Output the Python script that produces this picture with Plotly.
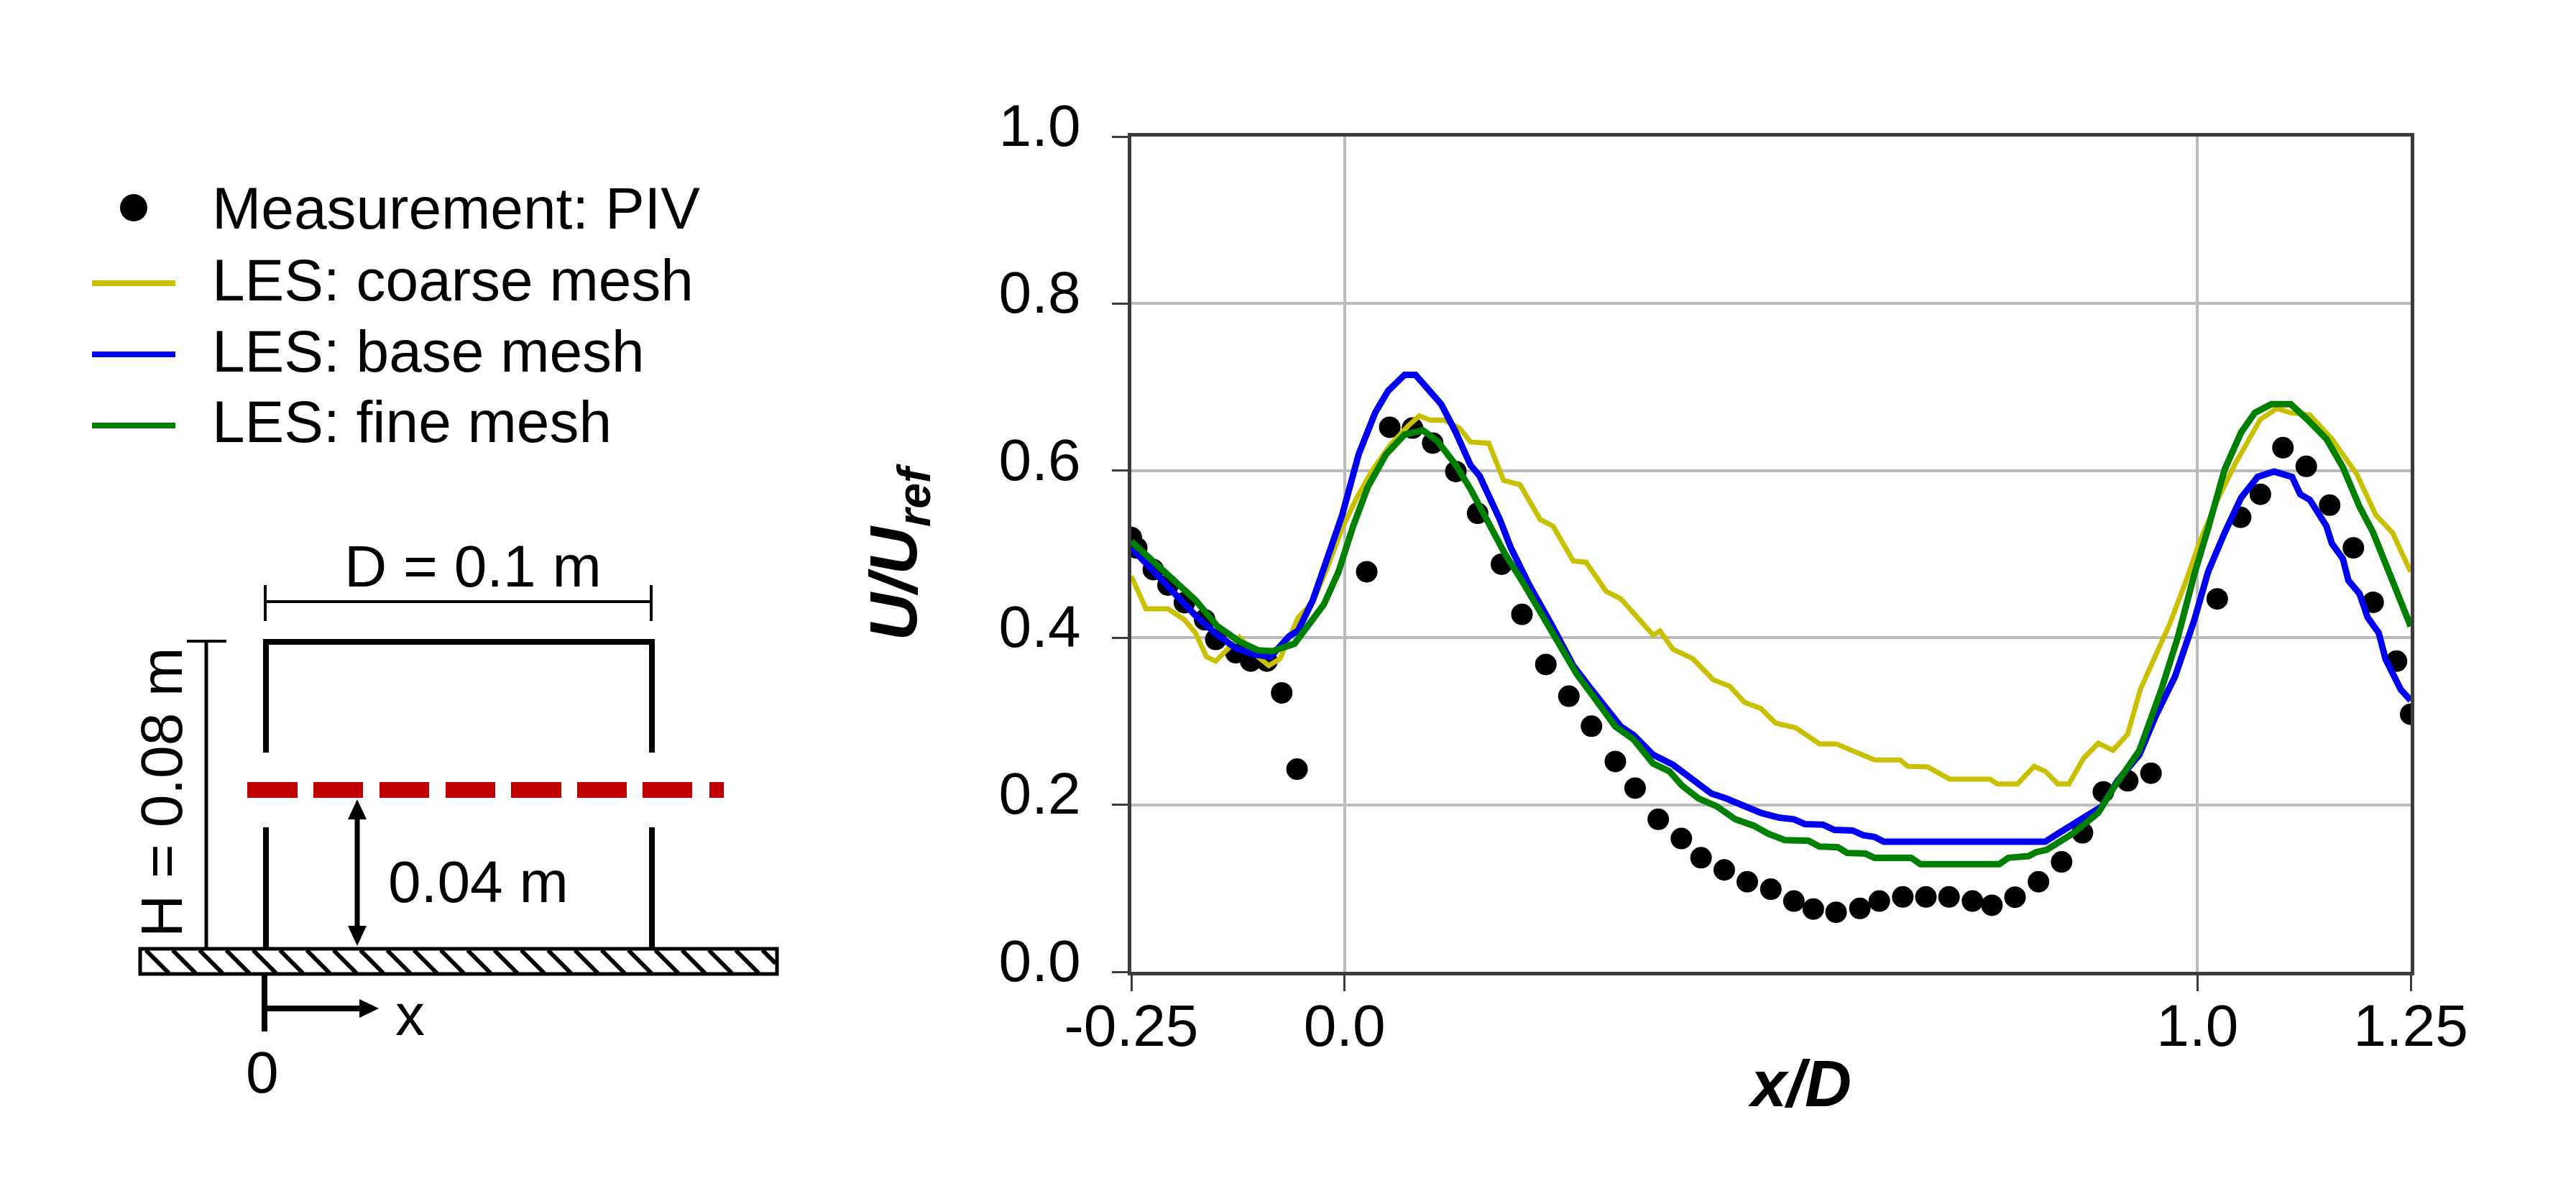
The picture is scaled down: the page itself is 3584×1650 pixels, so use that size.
import plotly.graph_objects as go

W, H = 3584, 1650
FONT = 'Liberation Sans'
PAGE_MARGIN = 8  # the browser's default body margin pushes the figure by this much

# Measurement: PIV
piv_x = [-0.25, -0.2436, -0.2242, -0.207, -0.1877, -0.164, -0.151, -0.1275, -0.11, -0.091, -0.0737, -0.0557,
         0.026, 0.053, 0.0797, 0.1034, 0.1305, 0.156, 0.184, 0.208, 0.236, 0.263, 0.2895, 0.3175, 0.3407,
         0.3678, 0.3949, 0.418, 0.4452, 0.4722, 0.4998, 0.5268, 0.5496, 0.5763, 0.6042, 0.627, 0.6545,
         0.6816, 0.7087, 0.7362, 0.759, 0.7861, 0.8136, 0.8407, 0.8652, 0.8897, 0.9182, 0.9455,
         1.0232, 1.0506, 1.0738, 1.1002, 1.1276, 1.155, 1.1828, 1.206, 1.2334, 1.25]
piv_y = [0.52, 0.5076, 0.4815, 0.463, 0.442, 0.4215, 0.398, 0.382, 0.372, 0.372, 0.334, 0.2426,
         0.479, 0.652, 0.651, 0.633, 0.599, 0.549, 0.488, 0.428, 0.368, 0.33, 0.294, 0.2518, 0.2199,
         0.1826, 0.1596, 0.1366, 0.122, 0.1078, 0.0989, 0.0847, 0.0751, 0.0713, 0.0759, 0.0847, 0.0897,
         0.0897, 0.0897, 0.0847, 0.0797, 0.0893, 0.1078, 0.1316, 0.1665, 0.2154, 0.2286, 0.2378,
         0.4465, 0.5441, 0.5717, 0.6275, 0.6051, 0.5587, 0.5076, 0.4424, 0.3719, 0.3083]

# LES: coarse mesh
coarse_x = [-0.25, -0.2328, -0.207, -0.1877, -0.1748, -0.1619, -0.1511, -0.1361, -0.1232, -0.1017, -0.0888,
            -0.0759, -0.0544, -0.0372, -0.02, -0.0028, 0.0144, 0.0316, 0.0531, 0.0746, 0.0875, 0.1004, 0.1176,
            0.1348, 0.1477, 0.1692, 0.1864, 0.2057, 0.2294, 0.2444, 0.2681, 0.2831, 0.3068, 0.324, 0.3618,
            0.3699, 0.385, 0.4086, 0.4323, 0.4516, 0.4688, 0.4882, 0.5054, 0.529, 0.557, 0.5763, 0.6214,
            0.6515, 0.6601, 0.6838, 0.7096, 0.7569, 0.7655, 0.7891, 0.8084, 0.8214, 0.8364, 0.8493, 0.8665,
            0.8837, 0.9009, 0.9181, 0.9331, 0.9516, 0.9674, 0.9867, 1.0028, 1.0222, 1.0448, 1.0738, 1.0931,
            1.1093, 1.1318, 1.1576, 1.1866, 1.2092, 1.2286, 1.25]
coarse_y = [0.4737, 0.4345, 0.4345, 0.4215, 0.4058, 0.3772, 0.3719, 0.3876, 0.4006, 0.3772, 0.3667,
            0.3745, 0.4241, 0.4424, 0.4841, 0.531, 0.5676, 0.5988, 0.6301, 0.6536, 0.6656, 0.6604, 0.6604,
            0.651, 0.6343, 0.6328, 0.5884, 0.5832, 0.5415, 0.5336, 0.4919, 0.4904, 0.4554, 0.4465, 0.4032,
            0.4081, 0.3862, 0.3746, 0.3497, 0.342, 0.3228, 0.3151, 0.2978, 0.2921, 0.2729, 0.2729, 0.2537,
            0.2537, 0.246, 0.2452, 0.2306, 0.2306, 0.2249, 0.2249, 0.246, 0.2402, 0.2249, 0.2249, 0.2556,
            0.2737, 0.2652, 0.2844, 0.3382, 0.3804, 0.4163, 0.4684, 0.5154, 0.5623, 0.6093, 0.6615, 0.6745,
            0.6693, 0.6667, 0.638, 0.5962, 0.5467, 0.5258, 0.4789]

# LES: base mesh
base_x = [-0.25, -0.2264, -0.2006, -0.1748, -0.1511, -0.1275, -0.106, -0.0866, -0.0651, -0.0544, -0.0372, -0.02,
          -0.0028, 0.0166, 0.0359, 0.0509, 0.0703, 0.0832, 0.1133, 0.1305, 0.1477, 0.1584, 0.1821, 0.195, 0.2165,
          0.2423, 0.2681, 0.2895, 0.3239, 0.339, 0.3618, 0.385, 0.4022, 0.4172, 0.4301, 0.4473, 0.4667, 0.4882,
          0.5097, 0.5269, 0.5397, 0.5612, 0.5741, 0.5956, 0.6085, 0.6214, 0.6322, 0.8214, 0.8364, 0.8579, 0.888,
          0.9061, 0.9319, 0.9512, 0.9738, 0.9964, 1.0125, 1.0319, 1.0512, 1.0706, 1.0899, 1.1109, 1.1205, 1.1318,
          1.1512, 1.1576, 1.1705, 1.177, 1.1899, 1.1996, 1.2125, 1.2205, 1.2318, 1.2383, 1.25]
base_y = [0.5076, 0.4815, 0.4528, 0.4267, 0.4048, 0.3876, 0.3798, 0.3772, 0.4017, 0.4085, 0.445, 0.4945,
          0.5467, 0.6197, 0.6693, 0.6954, 0.7147, 0.7147, 0.6797, 0.6458, 0.6067, 0.5936, 0.5415, 0.5076, 0.4632,
          0.4163, 0.3667, 0.338, 0.2937, 0.2833, 0.2598, 0.248, 0.2345, 0.2249, 0.2134, 0.2076, 0.2, 0.1903,
          0.1846, 0.1826, 0.1769, 0.1761, 0.17, 0.1692, 0.1634, 0.1615, 0.1558, 0.1558, 0.1653, 0.1788, 0.198,
          0.2285, 0.2598, 0.3067, 0.3537, 0.4215, 0.4789, 0.5258, 0.5676, 0.5926, 0.5989, 0.5926, 0.5717, 0.565,
          0.5336, 0.5128, 0.4945, 0.4684, 0.4528, 0.4241, 0.4058, 0.3745, 0.3537, 0.338, 0.325]

# LES: fine mesh
fine_x = [-0.25, -0.2221, -0.2006, -0.1748, -0.149, -0.1232, -0.1017, -0.0845, -0.0587, -0.0458, -0.0243, -0.0071,
          0.0101, 0.0273, 0.0488, 0.0703, 0.0918, 0.109, 0.1305, 0.1477, 0.1692, 0.1885, 0.2079, 0.2337, 0.2509,
          0.2724, 0.2895, 0.3175, 0.339, 0.3618, 0.3807, 0.3957, 0.4151, 0.4366, 0.4581, 0.4796, 0.4968, 0.5161,
          0.544, 0.5569, 0.5784, 0.5892, 0.6107, 0.6214, 0.6644, 0.6752, 0.7676, 0.7784, 0.802, 0.8106, 0.8235,
          0.8536, 0.8837, 0.9009, 0.9319, 0.9577, 0.977, 0.9964, 1.0125, 1.0319, 1.0512, 1.0673, 1.0867, 1.1093,
          1.1286, 1.1512, 1.1705, 1.1899, 1.206, 1.2221, 1.235, 1.25]
fine_y = [0.5154, 0.4893, 0.471, 0.445, 0.4137, 0.3954, 0.385, 0.3839, 0.3928, 0.4111, 0.4397, 0.4789,
          0.5336, 0.5806, 0.6197, 0.6432, 0.6484, 0.6354, 0.6067, 0.578, 0.5363, 0.4997, 0.4684, 0.4241, 0.3954,
          0.3563, 0.3328, 0.2937, 0.278, 0.2493, 0.2402, 0.2229, 0.2076, 0.198, 0.1826, 0.175, 0.1653, 0.1577,
          0.1569, 0.15, 0.1492, 0.1423, 0.1415, 0.1365, 0.1365, 0.1289, 0.1289, 0.1365, 0.1385, 0.1431, 0.1462,
          0.1653, 0.1903, 0.2191, 0.265, 0.338, 0.4006, 0.4763, 0.531, 0.6015, 0.6458, 0.6693, 0.6797, 0.6797,
          0.6615, 0.638, 0.6041, 0.5571, 0.5258, 0.4841, 0.4528, 0.4137]

x_ticks = [-0.25, 0.0, 1.0, 1.25]
x_labels = ['-0.25', '0.0', '1.0', '1.25']
y_ticks = [0.0, 0.2, 0.4, 0.6, 0.8, 1.0]
y_labels = ['0.0', '0.2', '0.4', '0.6', '0.8', '1.0']

COARSE, BASE, FINE = '#c8c000', '#0000f0', '#008000'
RED = '#be0000'


def px(x):
    return (x - PAGE_MARGIN) / W


def py(y):
    return 1 - (y - PAGE_MARGIN) / H


def line(x0, y0, x1, y1, width=4, color='black'):
    return dict(type='line', xref='paper', yref='paper', x0=px(x0), y0=py(y0), x1=px(x1), y1=py(y1),
                line=dict(color=color, width=width))


def rect(x0, y0, x1, y1, fill='black', border=0, border_color='black'):
    return dict(type='rect', xref='paper', yref='paper', x0=px(x0), y0=py(y0), x1=px(x1), y1=py(y1),
                fillcolor=fill, line=dict(color=border_color, width=border))


def triangle(points):
    path = 'M ' + ' L '.join(f'{px(a)},{py(b)}' for a, b in points) + ' Z'
    return dict(type='path', xref='paper', yref='paper', path=path, fillcolor='black', line=dict(width=0))


def label(text, x, y, size=82, anchor='left', angle=0):
    return dict(text=text, xref='paper', yref='paper', x=px(x), y=py(y), xanchor=anchor, yanchor='middle',
                showarrow=False, textangle=angle, font=dict(family=FONT, size=size, color='black'))


fig = go.Figure()
fig.add_trace(go.Scatter(x=piv_x, y=piv_y, mode='markers', name='Measurement: PIV',
                         marker=dict(color='black', size=30)))
fig.add_trace(go.Scatter(x=coarse_x, y=coarse_y, mode='lines', name='LES: coarse mesh',
                         line=dict(color=COARSE, width=7)))
fig.add_trace(go.Scatter(x=base_x, y=base_y, mode='lines', name='LES: base mesh',
                         line=dict(color=BASE, width=9)))
fig.add_trace(go.Scatter(x=fine_x, y=fine_y, mode='lines', name='LES: fine mesh',
                         line=dict(color=FINE, width=9)))

shapes = []
annotations = []

# hand made legend, top left
legend_rows = [('Measurement: PIV', 289, None), ('LES: coarse mesh', 389, COARSE),
               ('LES: base mesh', 488, BASE), ('LES: fine mesh', 587, FINE)]
for name, row, color in legend_rows:
    annotations.append(label(name, 293, row))
    if color:
        shapes.append(line(128, row + 5, 244, row + 5, width=8, color=color))
shapes.append(dict(type='circle', xref='paper', yref='paper', x0=px(167), y0=py(308), x1=px(205), y1=py(270),
                   fillcolor='black', line=dict(width=0)))

# ground with hatching
for i in range(24):
    left = 203 + 37.3 * i
    shapes.append(line(left, 1322, min(left + 32, 1079), 1354 if left + 32 < 1079 else 1322 + (1079 - left),
                       width=6))
shapes.append(rect(195, 1320, 1081, 1355, fill='rgba(0,0,0,0)', border=5))

# box walls
shapes.append(line(370, 893, 907, 893, width=8))
for wall in (370, 907):
    shapes.append(line(wall, 889, wall, 1047, width=8))
    shapes.append(line(wall, 1151, wall, 1320, width=8))

# sampling line
for left, right in [(344, 414), (436, 505), (528, 597), (620, 689), (711, 781), (803, 872), (894, 963), (987, 1007)]:
    shapes.append(rect(left, 1088, right, 1110, fill=RED))

# D dimension
shapes.append(line(369, 837, 906, 837, width=4))
shapes.append(line(369, 814, 369, 864, width=4))
shapes.append(line(906, 814, 906, 864, width=4))
annotations.append(label('D = 0.1 m', 658, 788, anchor='center'))

# H dimension
shapes.append(line(287, 892, 287, 1320, width=5))
shapes.append(line(260, 892, 315, 892, width=4))
annotations.append(label('H = 0.08 m', 224, 1103, anchor='center', angle=-90))

# 0.04 m arrow
shapes.append(line(497, 1135, 497, 1295, width=7))
shapes.append(triangle([(497, 1112), (484, 1140), (510, 1140)]))
shapes.append(triangle([(497, 1316), (484, 1288), (510, 1288)]))
annotations.append(label('0.04 m', 665, 1226, anchor='center'))

# origin and x arrow
shapes.append(line(368, 1355, 368, 1435, width=8))
shapes.append(line(368, 1403, 505, 1403, width=8))
shapes.append(triangle([(527, 1403), (500, 1390), (500, 1416)]))
annotations.append(label('x', 570, 1411, anchor='center'))
annotations.append(label('0', 365, 1491, anchor='center'))

# x axis title sits off centre in the original
annotations.append(label('<b><i>x/D</i></b>', 2504, 1508, size=90, anchor='center'))

fig.update_layout(
    width=W, height=H, margin=dict(l=0, r=0, t=0, b=0), paper_bgcolor='white', plot_bgcolor='white',
    showlegend=False, shapes=shapes, annotations=annotations, font=dict(family=FONT, color='black'),
)
fig.update_xaxes(domain=[px(1574), px(3354)], range=[-0.25, 1.25], tickvals=x_ticks, ticktext=x_labels,
                 automargin=False,
                 showgrid=True, gridcolor='#bbbbbb', gridwidth=4, zeroline=False, showline=True, mirror=True,
                 linecolor='#3c3c3c', linewidth=5, ticks='outside', ticklen=22, tickwidth=3, tickcolor='#3c3c3c',
                 tickfont=dict(size=82, family=FONT), ticklabelstandoff=-22)
fig.update_yaxes(domain=[py(1352), py(190)], range=[0, 1], tickvals=y_ticks, ticktext=y_labels,
                 automargin=False,
                 showgrid=True, gridcolor='#bbbbbb', gridwidth=4, zeroline=False, showline=True, mirror=True,
                 linecolor='#3c3c3c', linewidth=5, ticks='outside', ticklen=22, tickwidth=3, tickcolor='#3c3c3c',
                 tickfont=dict(size=82, family=FONT), ticklabelshift=-16, ticklabelstandoff=27,
                 title=dict(text='<b><i>U/U<sub>ref</sub></i></b>', font=dict(size=92, family=FONT), standoff=85))

fig.write_html('out.html')
